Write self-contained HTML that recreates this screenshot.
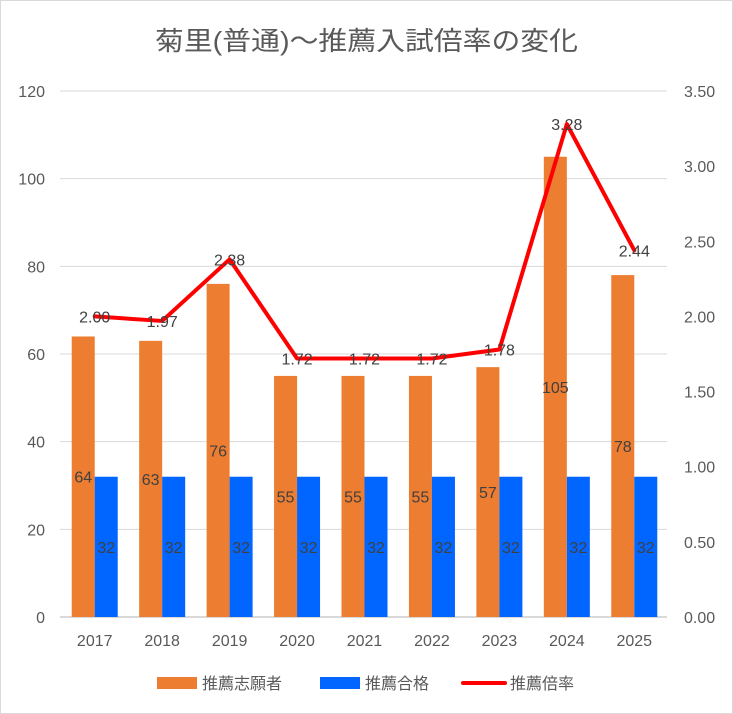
<!DOCTYPE html>
<html><head><meta charset="utf-8"><style>
body{margin:0;background:#fff}
svg{display:block;font-family:"Liberation Sans","Noto Sans CJK JP",sans-serif}
</style></head><body>
<svg id="c" width="733" height="714">
<rect x="0.5" y="0.5" width="732" height="713" fill="#fff" stroke="#d9d9d9"/>
<text x="155" y="50" textLength="423" lengthAdjust="spacingAndGlyphs" font-size="26" fill="#595959">菊里(普通)〜推薦入試倍率の変化</text>
<g id="grid"></g><g id="bars"></g><g id="line"></g><g id="labels"></g>
<g>
<rect x="157" y="677" width="40" height="12" fill="#ed7d31"/>
<text x="202" y="689" font-size="16" fill="#595959">推薦志願者</text>
<rect x="320" y="677" width="40" height="12" fill="#0066ff"/>
<text x="365" y="689" font-size="16" fill="#595959">推薦合格</text>
<line x1="463" y1="683" x2="505" y2="683" stroke="#ff0000" stroke-width="4" stroke-linecap="round"/>
<text x="510" y="689" font-size="16" fill="#595959">推薦倍率</text>
</g>
</svg>
<script>
const years=["2017","2018","2019","2020","2021","2022","2023","2024","2025"];
const applicants=[64,63,76,55,55,55,57,105,78];
const passed=[32,32,32,32,32,32,32,32,32];
const ratio=[2.00,1.97,2.38,1.72,1.72,1.72,1.78,3.28,2.44];
const leftTicks=[0,20,40,60,80,100,120];
const rightTicks=["0.00","0.50","1.00","1.50","2.00","2.50","3.00","3.50"];
const NS="http://www.w3.org/2000/svg";
const X0=60,X1=667,Y0=617,Y1=91;
const band=(X1-X0)/years.length;
const yL=v=>Y0-v/120*(Y0-Y1);
const yR=v=>Y0-v/3.5*(Y0-Y1);
const xC=i=>X0+band*(i+0.5);
function mk(tag,attrs,parent,txt){const e=document.createElementNS(NS,tag);for(const k in attrs)e.setAttribute(k,attrs[k]);if(txt!=null)e.textContent=txt;document.getElementById(parent).appendChild(e);return e;}
leftTicks.forEach(t=>{
 const l=mk('line',{x1:X0,x2:X1,y1:yL(t),y2:yL(t),stroke:'#d9d9d9','stroke-width':1},'grid');
 
 
 const tx=mk('text',{x:45,y:yL(t)+6,'text-anchor':'end','font-size':16,fill:'#595959'},'grid',t);
 
 
});
rightTicks.forEach(t=>{
 const tx=mk('text',{x:684,y:yR(+t)+6,'font-size':16,fill:'#595959'},'grid',t);
 
 
});
const bw=23;
years.forEach((y,i)=>{
 const c=xC(i)+1;
 const a=mk('rect',{x:c-bw,y:yL(applicants[i]),width:bw,height:Y0-yL(applicants[i]),fill:'#ed7d31'},'bars');
 
 
 const p=mk('rect',{x:c,y:yL(passed[i]),width:bw,height:Y0-yL(passed[i]),fill:'#0066ff'},'bars');
 
 
 const xl=mk('text',{x:c,y:646,'text-anchor':'middle','font-size':16,fill:'#595959'},'grid',y);
 
 
 const al=mk('text',{x:c-bw/2,y:(yL(applicants[i])+Y0)/2+6,'text-anchor':'middle','font-size':16,fill:'#404040'},'labels',applicants[i]);
 
 
 const pl=mk('text',{x:c+bw/2,y:(yL(passed[i])+Y0)/2+6,'text-anchor':'middle','font-size':16,fill:'#404040'},'labels',passed[i]);
 
 
 const rl=mk('text',{x:c,y:yR(ratio[i])+6,'text-anchor':'middle','font-size':16,fill:'#404040'},'labels',ratio[i].toFixed(2));
 
 
});
const ax=mk('line',{x1:X0,x2:X1,y1:Y0,y2:Y0,stroke:'#d9d9d9','stroke-width':2},'grid');


const pts=ratio.map((r,i)=>(xC(i)+1)+','+yR(r)).join(' ');
const pl=mk('polyline',{points:pts,fill:'none',stroke:'#ff0000','stroke-width':4,'stroke-linejoin':'round','stroke-linecap':'round'},'line');


</script>
</body></html>
